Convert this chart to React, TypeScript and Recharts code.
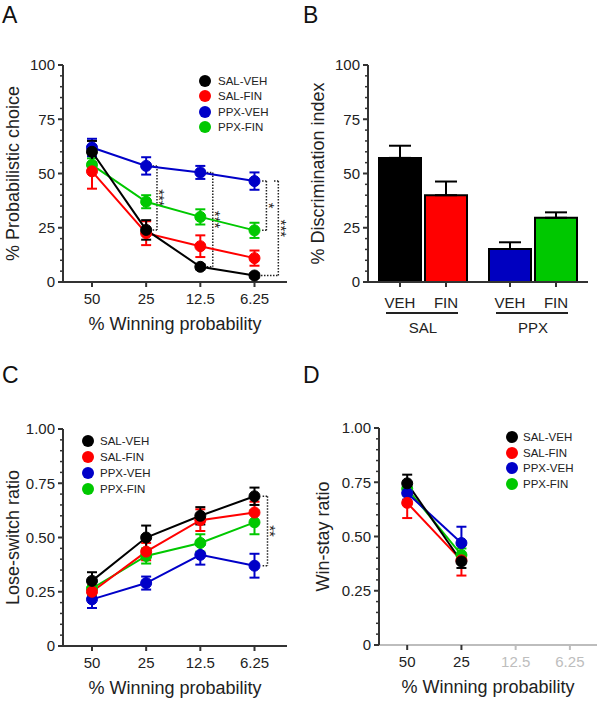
import React from "react";
import {
  Bar,
  BarChart,
  Cell,
  ErrorBar,
  Legend,
  Line,
  LineChart,
  ReferenceLine,
  XAxis,
  YAxis,
} from "recharts";

const FONT = '"Liberation Sans", Arial, sans-serif';
const INK = "#222";
const AXIS = "#333";
const GREY = "#bdbdbd";

// categories
const probLabels = ["50", "25", "12.5", "6.25"];
const groupNames = ["SAL", "PPX"];
const treatLabels = ["VEH", "FIN"];

const SERIES = [
  { key: "salVeh", name: "SAL-VEH", color: "#000000" },
  { key: "salFin", name: "SAL-FIN", color: "#ff0000" },
  { key: "ppxVeh", name: "PPX-VEH", color: "#0000c8" },
  { key: "ppxFin", name: "PPX-FIN", color: "#00c800" },
];
// draw order: black last so it sits on top
const DRAW_ORDER = ["ppxFin", "ppxVeh", "salFin", "salVeh"];

// A: % probabilistic choice
const choiceSalVeh = [60, 24, 7, 3];
const choiceSalVehErr = [5, 4.5, 1.2, 1];
const choiceSalFin = [51, 22.5, 16.5, 11];
const choiceSalFinErr = [8, 5.5, 5, 3.5];
const choicePpxVeh = [62, 53.5, 50.5, 46.5];
const choicePpxVehErr = [4, 4, 3, 4];
const choicePpxFin = [54, 37, 30, 23.8];
const choicePpxFinErr = [3, 3, 3.5, 3.5];

// B: % discrimination index
const discVeh = [57.2, 15.2];
const discVehErr = [5.6, 3.1];
const discFin = [40, 29.6];
const discFinErr = [6.3, 2.5];

// C: lose-switch ratio
const loseSalVeh = [0.3, 0.5, 0.6, 0.69];
const loseSalVehErr = [0.04, 0.055, 0.04, 0.04];
const loseSalFin = [0.25, 0.435, 0.58, 0.615];
const loseSalFinErr = [0.03, 0.04, 0.05, 0.05];
const losePpxVeh = [0.215, 0.29, 0.42, 0.37];
const losePpxVehErr = [0.04, 0.03, 0.045, 0.055];
const losePpxFin = [0.265, 0.415, 0.475, 0.57];
const losePpxFinErr = [0.03, 0.035, 0.04, 0.055];

// D: win-stay ratio (only 50 and 25 measured)
const winSalVeh = [0.745, 0.385];
const winSalVehErr = [0.04, 0.03];
const winSalFin = [0.655, 0.39];
const winSalFinErr = [0.07, 0.07];
const winPpxVeh = [0.7, 0.47];
const winPpxVehErr = [0.03, 0.075];
const winPpxFin = [0.72, 0.415];
const winPpxFinErr = [0.03, 0.03];

const pctTicks = [0, 5, 10, 15, 20, 25, 30, 35, 40, 45, 50, 55, 60, 65, 70, 75, 80, 85, 90, 95, 100];
const pctMajor = [0, 25, 50, 75, 100];
const ratioTicks = [0, 0.05, 0.1, 0.15, 0.2, 0.25, 0.3, 0.35, 0.4, 0.45, 0.5, 0.55, 0.6, 0.65, 0.7, 0.75, 0.8, 0.85, 0.9, 0.95, 1];
const ratioMajor = [0, 0.25, 0.5, 0.75, 1];

function buildRows(count: number, vals: number[][], errs: number[][]) {
  return Array.from({ length: count }, (_, i) => {
    const row: any = { x: i };
    SERIES.forEach((s, k) => {
      row[s.key] = vals[k][i];
      row[s.key + "Err"] = errs[k][i];
    });
    return row;
  });
}

const rowsA = buildRows(
  4,
  [choiceSalVeh, choiceSalFin, choicePpxVeh, choicePpxFin],
  [choiceSalVehErr, choiceSalFinErr, choicePpxVehErr, choicePpxFinErr]
);
const rowsC = buildRows(
  4,
  [loseSalVeh, loseSalFin, losePpxVeh, losePpxFin],
  [loseSalVehErr, loseSalFinErr, losePpxVehErr, losePpxFinErr]
);
const rowsD = buildRows(
  2,
  [winSalVeh, winSalFin, winPpxVeh, winPpxFin],
  [winSalVehErr, winSalFinErr, winPpxVehErr, winPpxFinErr]
);
const rowsB = groupNames.map((g, i) => ({
  group: g,
  veh: discVeh[i],
  vehErr: [0, discVehErr[i]],
  fin: discFin[i],
  finErr: [0, discFinErr[i]],
}));

interface Bracket {
  x: number;
  top: number;
  bottom: number;
  topFrom: number;
  bottomFrom: number;
  text: string;
}

const bracketsA: Bracket[] = [
  { x: 1.2, top: 53.5, bottom: 24, topFrom: 1.12, bottomFrom: 1.12, text: "***" },
  { x: 2.23, top: 50.5, bottom: 7, topFrom: 2.12, bottomFrom: 2.12, text: "***" },
  { x: 3.22, top: 46.5, bottom: 23.8, topFrom: 3.14, bottomFrom: 3.14, text: "*" },
  { x: 3.44, top: 46.5, bottom: 3, topFrom: 3.36, bottomFrom: 3.12, text: "***" },
];
const bracketsC: Bracket[] = [
  { x: 3.24, top: 0.69, bottom: 0.37, topFrom: 3.15, bottomFrom: 3.15, text: "**" },
];

const fmtPct = (v: number) => (pctMajor.includes(v) ? String(v) : null);
const fmtRatio = (v: number) =>
  ratioMajor.some((m) => Math.abs(m - v) < 1e-6) ? (v === 0 ? "0" : v.toFixed(2)) : null;

const renderYTick = (fmt: (v: number) => string | null) => (p: any) => {
  const label = fmt(p.payload.value);
  return (
    <g>
      <line
        x1={p.x}
        x2={p.x - (label ? 5 : 3)}
        y1={p.y}
        y2={p.y}
        stroke={AXIS}
        strokeWidth={label ? 2 : 1.5}
      />
      {label && (
        <text x={p.x - 8} y={p.y} dy="0.36em" textAnchor="end" fontSize={15} fill={INK}>
          {label}
        </text>
      )}
    </g>
  );
};

const renderXTick = (greyFrom: number) => (p: any) => {
  const i = p.payload.value;
  const c = i >= greyFrom ? GREY : INK;
  return (
    <g>
      <line x1={p.x} x2={p.x} y1={p.y} y2={p.y + 5} stroke={i >= greyFrom ? GREY : AXIS} strokeWidth={2} />
      <text x={p.x} y={p.y + 17} dy="0.36em" textAnchor="middle" fontSize={15} fill={c}>
        {probLabels[i]}
      </text>
    </g>
  );
};

const renderGroupTick = (p: any) => (
  <g>
    {[-23, 23].map((dx, k) => (
      <g key={k}>
        <line x1={p.x + dx} x2={p.x + dx} y1={p.y} y2={p.y + 5} stroke={AXIS} strokeWidth={2} />
        <text x={p.x + dx} y={p.y + 21} dy="0.36em" textAnchor="middle" fontSize={15} fill={INK}>
          {treatLabels[k]}
        </text>
      </g>
    ))}
    <line x1={p.x - 37} x2={p.x + 35} y1={p.y + 31} y2={p.y + 31} stroke={INK} strokeWidth={2} />
    <text x={p.x} y={p.y + 46} dy="0.36em" textAnchor="middle" fontSize={15} fill={INK}>
      {p.payload.value}
    </text>
  </g>
);

const starLabel = (text: string) => (p: any) => {
  const vb = p.viewBox || { x: 0, y: 0, height: 0 };
  const cx = vb.x + 6;
  const cy = vb.y + (vb.height || 0) / 2;
  return (
    <text
      transform={`translate(${cx},${cy}) rotate(90)`}
      textAnchor="middle"
      dy="0.58em"
      fontSize={15}
      fill={INK}
    >
      {text}
    </text>
  );
};

const bracketLines = (list: Bracket[]) =>
  list.flatMap((b, i) => {
    const common = {
      stroke: INK,
      strokeWidth: 1.5,
      strokeDasharray: "1.5 1.5",
      ifOverflow: "visible" as const,
    };
    return [
      <ReferenceLine key={`t${i}`} segment={[{ x: b.topFrom, y: b.top }, { x: b.x, y: b.top }]} {...common} />,
      <ReferenceLine
        key={`v${i}`}
        segment={[{ x: b.x, y: b.top }, { x: b.x, y: b.bottom }]}
        {...common}
        label={{ content: starLabel(b.text) }}
      />,
      <ReferenceLine key={`b${i}`} segment={[{ x: b.bottomFrom, y: b.bottom }, { x: b.x, y: b.bottom }]} {...common} />,
    ];
  });

const legendContent = (gap: number, rowH: number) => () => (
  <div style={{ fontFamily: FONT, fontSize: 11.5, color: INK }}>
    {SERIES.map((s) => (
      <div key={s.key} style={{ display: "flex", alignItems: "center", height: rowH }}>
        <span
          style={{
            width: 12,
            height: 12,
            borderRadius: 6,
            background: s.color,
            display: "inline-block",
            marginRight: gap,
          }}
        />
        {s.name}
      </div>
    ))}
  </div>
);

interface LinePanelProps {
  rows: any[];
  xDomain: [number, number];
  xTicks: number[];
  yDomain: [number, number];
  yTicks: number[];
  yFmt: (v: number) => string | null;
  yLabel: string;
  margin: { top: number; right: number; left: number; bottom: number };
  yWidth: number;
  yLabelOffset: number;
  legend: { top: number; left: number; gap: number; rowH: number };
  brackets: Bracket[];
  greyFrom?: number;
  blackUntil?: number;
}

function LinePanel(props: LinePanelProps) {
  const greyFrom = props.greyFrom ?? 99;
  return (
    <LineChart width={300} height={350} data={props.rows} margin={props.margin}>
      <XAxis
        dataKey="x"
        type="number"
        domain={props.xDomain}
        ticks={props.xTicks}
        interval={0}
        tickLine={false}
        tickSize={0}
        tickMargin={0}
        tick={renderXTick(greyFrom)}
        axisLine={{ stroke: props.blackUntil != null ? GREY : AXIS, strokeWidth: 2 }}
        height={50}
        allowDataOverflow
        label={{
          value: "% Winning probability",
          position: "insideBottom",
          offset: 2,
          style: { fontSize: 18, fill: INK },
        }}
      />
      <YAxis
        type="number"
        domain={props.yDomain}
        ticks={props.yTicks}
        interval={0}
        tickLine={false}
        tickSize={0}
        tickMargin={0}
        tick={renderYTick(props.yFmt)}
        axisLine={{ stroke: AXIS, strokeWidth: 2 }}
        width={props.yWidth}
        label={{
          value: props.yLabel,
          angle: -90,
          position: "insideLeft",
          offset: props.yLabelOffset,
          style: { textAnchor: "middle", fontSize: 18, fill: INK },
        }}
      />
      {props.blackUntil != null && (
        <ReferenceLine
          segment={[
            { x: props.xDomain[0], y: props.yDomain[0] },
            { x: props.blackUntil, y: props.yDomain[0] },
          ]}
          stroke={AXIS}
          strokeWidth={2}
          ifOverflow="visible"
        />
      )}
      {bracketLines(props.brackets)}
      {DRAW_ORDER.map((k) => {
        const s = SERIES.find((d) => d.key === k)!;
        return (
          <Line
            key={k}
            type="linear"
            dataKey={k}
            name={s.name}
            stroke={s.color}
            strokeWidth={2}
            dot={{ r: 5.5, fill: s.color, stroke: s.color, strokeWidth: 1 }}
            activeDot={false}
            isAnimationActive={false}
          >
            <ErrorBar
              dataKey={k + "Err"}
              direction="y"
              width={5}
              stroke={s.color}
              strokeWidth={2}
              isAnimationActive={false}
            />
          </Line>
        );
      })}
      <Legend
        layout="vertical"
        align="center"
        verticalAlign="middle"
        content={legendContent(props.legend.gap, props.legend.rowH)}
        wrapperStyle={{ top: props.legend.top, left: props.legend.left, width: 100 }}
      />
    </LineChart>
  );
}

function DiscPanel() {
  return (
    <BarChart
      width={300}
      height={350}
      data={rowsB}
      margin={{ top: 65, right: 12, left: 8, bottom: 8 }}
      barCategoryGap="10%"
      barGap={4}
    >
      <XAxis
        dataKey="group"
        interval={0}
        tickLine={false}
        tickSize={0}
        tickMargin={0}
        tick={renderGroupTick}
        axisLine={{ stroke: AXIS, strokeWidth: 2 }}
        height={60}
      />
      <YAxis
        type="number"
        domain={[0, 100]}
        ticks={pctTicks}
        interval={0}
        tickLine={false}
        tickSize={0}
        tickMargin={0}
        tick={renderYTick(fmtPct)}
        axisLine={{ stroke: AXIS, strokeWidth: 2 }}
        width={60}
        label={{
          value: "% Discrimination index",
          angle: -90,
          position: "insideLeft",
          offset: 10,
          style: { textAnchor: "middle", fontSize: 18, fill: INK },
        }}
      />
      <Bar dataKey="veh" stroke="#000" strokeWidth={2} isAnimationActive={false}>
        <Cell fill="#000000" />
        <Cell fill="#0000c0" />
        <ErrorBar dataKey="vehErr" direction="y" width={11} stroke="#000" strokeWidth={2} isAnimationActive={false} />
      </Bar>
      <Bar dataKey="fin" stroke="#000" strokeWidth={2} isAnimationActive={false}>
        <Cell fill="#ff0000" />
        <Cell fill="#00c800" />
        <ErrorBar dataKey="finErr" direction="y" width={11} stroke="#000" strokeWidth={2} isAnimationActive={false} />
      </Bar>
    </BarChart>
  );
}

const letterStyle: React.CSSProperties = {
  position: "absolute",
  fontSize: 23,
  lineHeight: 1,
  color: "#111",
};

export default function App() {
  return (
    <div
      style={{
        position: "absolute",
        left: 0,
        top: 0,
        width: 600,
        height: 701,
        background: "#fff",
        fontFamily: FONT,
        overflow: "hidden",
      }}
    >
      <div style={{ position: "absolute", left: 0, top: 0 }}>
        <LinePanel
          rows={rowsA}
          xDomain={[-0.535, 3.6]}
          xTicks={[0, 1, 2, 3]}
          yDomain={[0, 100]}
          yTicks={pctTicks}
          yFmt={fmtPct}
          yLabel="% Probabilistic choice"
          margin={{ top: 65, right: 13, left: 3, bottom: 18 }}
          yWidth={60}
          yLabelOffset={10}
          legend={{ top: 73, left: 199, gap: 7, rowH: 15.5 }}
          brackets={bracketsA}
        />
      </div>
      <div style={{ position: "absolute", left: 300, top: 0 }}>
        <DiscPanel />
      </div>
      <div style={{ position: "absolute", left: 0, top: 350 }}>
        <LinePanel
          rows={rowsC}
          xDomain={[-0.535, 3.6]}
          xTicks={[0, 1, 2, 3]}
          yDomain={[0, 1]}
          yTicks={ratioTicks}
          yFmt={fmtRatio}
          yLabel="Lose-switch ratio"
          margin={{ top: 79, right: 13, left: 3, bottom: 4 }}
          yWidth={60}
          yLabelOffset={10}
          legend={{ top: 83, left: 82, gap: 6, rowH: 16 }}
          brackets={bracketsC}
        />
      </div>
      <div style={{ position: "absolute", left: 300, top: 350 }}>
        <LinePanel
          rows={rowsD}
          xDomain={[-0.52, 3.5]}
          xTicks={[0, 1, 2, 3]}
          yDomain={[0, 1]}
          yTicks={ratioTicks}
          yFmt={fmtRatio}
          yLabel="Win-stay ratio"
          margin={{ top: 78, right: 3, left: 9, bottom: 5 }}
          yWidth={70}
          yLabelOffset={14}
          legend={{ top: 79, left: 206, gap: 5, rowH: 15.7 }}
          brackets={[]}
          greyFrom={2}
          blackUntil={1.5}
        />
      </div>
      <div style={{ ...letterStyle, left: 2, top: 3.5 }}>A</div>
      <div style={{ ...letterStyle, left: 303, top: 3.5 }}>B</div>
      <div style={{ ...letterStyle, left: 2, top: 363.5 }}>C</div>
      <div style={{ ...letterStyle, left: 303, top: 363.5 }}>D</div>
    </div>
  );
}
